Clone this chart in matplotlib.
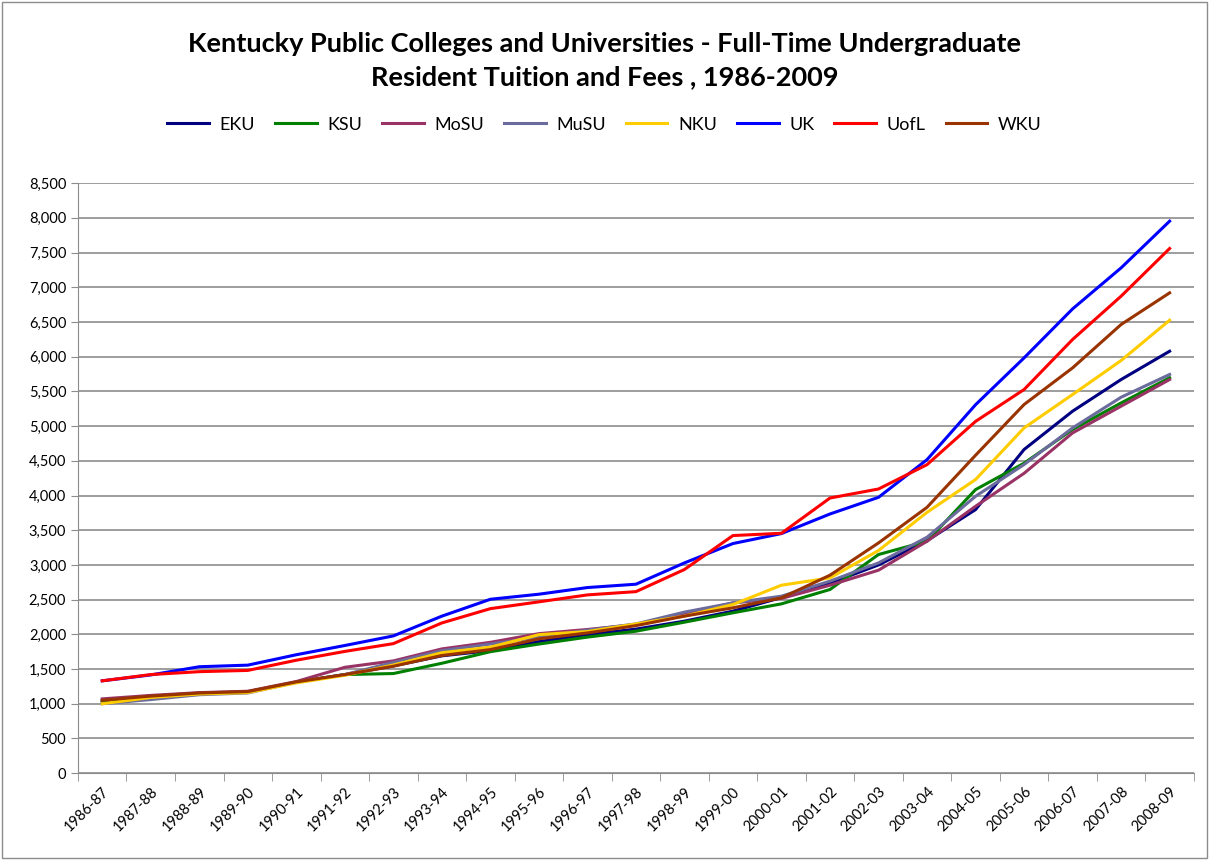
import matplotlib.pyplot as plt
from matplotlib.ticker import FuncFormatter, MultipleLocator

years = ["1986-87", "1987-88", "1988-89", "1989-90", "1990-91", "1991-92",
         "1992-93", "1993-94", "1994-95", "1995-96", "1996-97", "1997-98",
         "1998-99", "1999-00", "2000-01", "2001-02", "2002-03", "2003-04",
         "2004-05", "2005-06", "2006-07", "2007-08", "2008-09"]

eku = [1040, 1100, 1150, 1170, 1310, 1420, 1545, 1690, 1765, 1895, 1995, 2075,
       2190, 2334, 2530, 2737, 3000, 3350, 3797, 4663, 5215, 5671, 6079]
ksu = [1030, 1100, 1150, 1170, 1310, 1420, 1435, 1583, 1750, 1860, 1960, 2045,
       2175, 2310, 2439, 2646, 3150, 3341, 4085, 4466, 4951, 5334, 5697]
mosu = [1070, 1120, 1160, 1180, 1320, 1525, 1617, 1790, 1885, 2010, 2070, 2140,
        2290, 2453, 2517, 2708, 2924, 3341, 3845, 4320, 4902, 5287, 5671]
musu = [1000, 1060, 1130, 1155, 1310, 1420, 1595, 1765, 1860, 1960, 2060, 2150,
        2320, 2453, 2550, 2766, 3029, 3399, 3989, 4446, 4974, 5416, 5744]
nku = [1000, 1090, 1140, 1160, 1300, 1410, 1558, 1735, 1815, 1995, 2040, 2150,
       2262, 2430, 2708, 2813, 3208, 3758, 4230, 4974, 5455, 5945, 6526]
uk = [1330, 1415, 1533, 1556, 1706, 1839, 1977, 2262, 2505, 2578, 2674, 2722,
      3029, 3308, 3452, 3734, 3974, 4517, 5308, 5983, 6689, 7280, 7953]
uofl = [1330, 1420, 1462, 1480, 1627, 1754, 1866, 2164, 2370, 2468, 2568, 2615,
        2934, 3423, 3456, 3964, 4094, 4445, 5068, 5527, 6248, 6872, 7559]
wku = [1050, 1110, 1155, 1175, 1315, 1420, 1540, 1695, 1780, 1935, 2020, 2125,
       2262, 2382, 2526, 2852, 3317, 3830, 4580, 5311, 5839, 6464, 6920]

series = [("EKU", eku, "#000080"), ("KSU", ksu, "#008000"),
          ("MoSU", mosu, "#993366"), ("MuSU", musu, "#6B6B9E"),
          ("NKU", nku, "#FFCC00"), ("UK", uk, "#0000FF"),
          ("UofL", uofl, "#FF0000"), ("WKU", wku, "#993300")]

plt.rcParams['font.family'] = ['Lato', 'DejaVu Sans']

fig = plt.figure(figsize=(12.09, 8.6), dpi=100)
ax = fig.add_axes([0.0645, 0.101, 0.923, 0.686])

x = list(range(len(years)))
for name, vals, color in series:
    ax.plot(x, vals, color=color, lw=2.2, label=name)

# Axes styling
ax.set_xlim(-0.5, len(years) - 0.5)
ax.set_ylim(0, 8500)
ax.yaxis.set_major_locator(MultipleLocator(500))
ax.yaxis.set_major_formatter(FuncFormatter(lambda v, p: f"{int(v):,}"))
ax.grid(axis='y', color='#8c8c8c', lw=1.2)
ax.set_axisbelow(True)
for s in ['top', 'right']:
    ax.spines[s].set_visible(False)
ax.spines['left'].set_color('#8c8c8c')
ax.spines['bottom'].set_color('#8c8c8c')

ax.set_xticks(x)
ax.set_xticklabels(years, rotation=45, ha='right', rotation_mode='anchor')
ax.tick_params(axis='x', length=0, labelsize=10.5, pad=8)
ax.set_xticks([i - 0.5 for i in range(len(years) + 1)], minor=True)
ax.tick_params(axis='x', which='minor', length=6, color='#8c8c8c')
ax.tick_params(axis='y', length=5, color='#8c8c8c', labelsize=10.5)

fig.text(0.5, 0.93, "Kentucky Public Colleges and Universities - Full-Time Undergraduate\n"
         "Resident Tuition and Fees , 1986-2009",
         ha='center', va='center', fontsize=19.5, fontweight='bold', linespacing=1.45)

fig.legend(loc='center', bbox_to_anchor=(0.5, 0.855), ncol=8, frameon=False,
           fontsize=13, handlelength=2.3, handletextpad=0.6, columnspacing=1.1)

# outer border
fig.patches.append(plt.Rectangle((0.002, 0.002), 0.996, 0.996, transform=fig.transFigure,
                                 fill=False, edgecolor='#8c8c8c', lw=1))

fig.savefig("out.png", dpi=100)
